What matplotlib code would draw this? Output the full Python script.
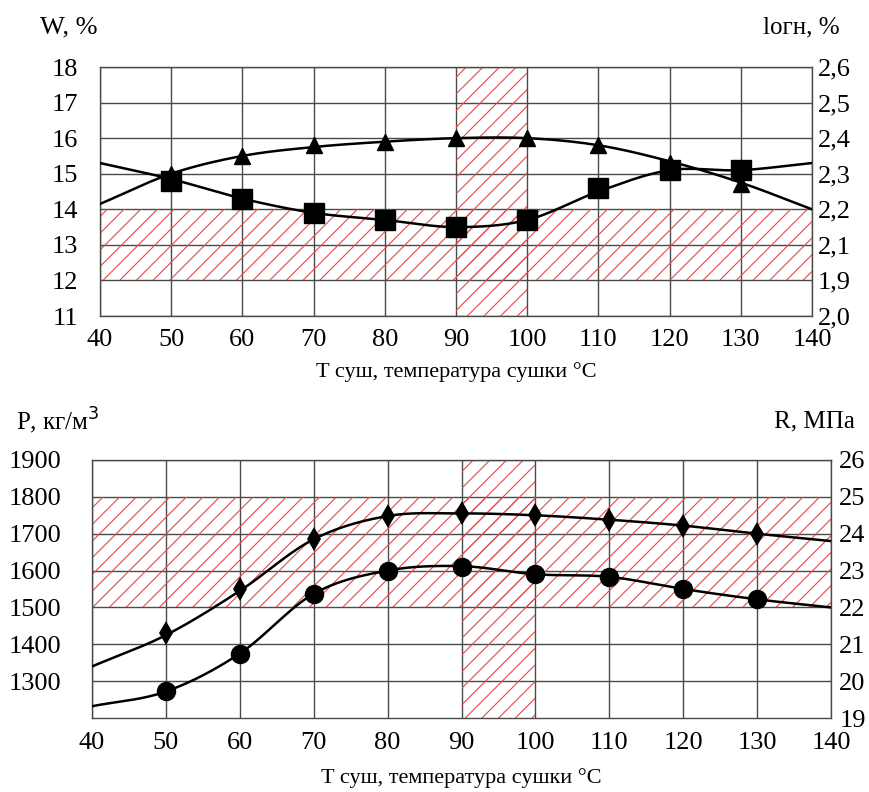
import numpy as np
import matplotlib
matplotlib.use("Agg")
import matplotlib.pyplot as plt
from matplotlib.patches import Rectangle

plt.rcParams['font.family'] = ['Liberation Serif', 'DejaVu Serif']
plt.rcParams['hatch.linewidth'] = 0.8

# ---------------- data ----------------
temps = [50, 60, 70, 80, 90, 100, 110, 120, 130]
curve_x = [40, 50, 60, 70, 80, 90, 100, 110, 120, 130, 140]

# top chart
tri_vals = [15.0, 15.5, 15.8, 15.9, 16.0, 16.0, 15.8, 15.3, 14.7]
tri_curve = [14.15, 15.0, 15.5, 15.75, 15.9, 16.0, 16.0, 15.8, 15.35, 14.75, 14.0]
sq_vals = [14.8, 14.3, 13.9, 13.7, 13.5, 13.7, 14.6, 15.1, 15.1]
sq_curve = [15.3, 14.85, 14.3, 13.9, 13.7, 13.5, 13.7, 14.5, 15.1, 15.1, 15.3]
top_left_ticks = [11, 12, 13, 14, 15, 16, 17, 18]
top_right_labels = ['2,0', '1,9', '2,1', '2,2', '2,3', '2,4', '2,5', '2,6']
top_band_y = (12, 14)

# bottom chart
dia_vals = [1430, 1550, 1685, 1748, 1755, 1750, 1738, 1722, 1700]
dia_curve = [1340, 1425, 1545, 1685, 1748, 1755, 1750, 1738, 1722, 1700, 1680]
circ_vals = [1272, 1375, 1537, 1600, 1610, 1590, 1583, 1550, 1522]
circ_curve = [1232, 1272, 1375, 1537, 1600, 1612, 1590, 1583, 1550, 1522, 1500]
bot_left_ticks = [1300, 1400, 1500, 1600, 1700, 1800, 1900]
bot_right_labels = ['19', '20', '21', '22', '23', '24', '25', '26']
bot_band_y = (1500, 1800)

x_ticks = [40, 50, 60, 70, 80, 90, 100, 110, 120, 130, 140]
v_band_x = (90, 100)
x_label = 'T суш, температура сушки °C'


def smooth(xs, ys, n=30):
    xs = np.asarray(xs, float)
    ys = np.asarray(ys, float)
    px = np.concatenate([[2 * xs[0] - xs[1]], xs, [2 * xs[-1] - xs[-2]]])
    py = np.concatenate([[2 * ys[0] - ys[1]], ys, [2 * ys[-1] - ys[-2]]])
    ox, oy = [], []
    for i in range(1, len(px) - 2):
        t = np.linspace(0, 1, n, endpoint=False)
        for arr, out in ((px, ox), (py, oy)):
            p0, p1, p2, p3 = arr[i - 1], arr[i], arr[i + 1], arr[i + 2]
            out.extend(0.5 * ((2 * p1) + (-p0 + p2) * t +
                              (2 * p0 - 5 * p1 + 4 * p2 - p3) * t ** 2 +
                              (-p0 + 3 * p1 - 3 * p2 + p3) * t ** 3))
    ox.append(xs[-1]); oy.append(ys[-1])
    return np.array(ox), np.array(oy)


fig = plt.figure(figsize=(8.69, 7.92), dpi=100)
grid_col = '#4a4a4a'
hatch_col = '#e8484a'


def style_axes(ax, ylim, left_ticks, right_labels, lpad, rpad, xpad):
    ax.set_xlim(40, 140)
    ax.set_ylim(*ylim)
    ax.set_xticks(x_ticks)
    ax.set_yticks(left_ticks)
    ax.grid(True, color=grid_col, linewidth=1.0)
    ax.set_axisbelow(True)
    for s in ax.spines.values():
        s.set_color(grid_col)
        s.set_linewidth(1.0)
    ax.tick_params(axis='both', length=0, labelsize=19)
    ax.tick_params(axis='y', pad=lpad)
    ax.tick_params(axis='x', pad=xpad)
    ax2 = ax.twinx()
    ax2.set_ylim(*ylim)
    step = (ylim[1] - ylim[0]) / (len(right_labels) - 1)
    ax2.set_yticks([ylim[0] + i * step for i in range(len(right_labels))])
    ax2.set_yticklabels(right_labels)
    ax2.tick_params(axis='y', length=0, labelsize=19, pad=rpad)
    for s in ax2.spines.values():
        s.set_visible(False)
    return ax2


def hatch_bands(ax, ylim, band_y):
    ax.add_patch(Rectangle((40, band_y[0]), 100, band_y[1] - band_y[0],
                           facecolor='none', edgecolor=hatch_col, hatch='//',
                           linewidth=0, zorder=1.5))
    ax.add_patch(Rectangle((v_band_x[0], ylim[0]), v_band_x[1] - v_band_x[0],
                           ylim[1] - ylim[0], facecolor='none',
                           edgecolor=hatch_col, hatch='//', linewidth=0,
                           zorder=1.5))


# ---------- top chart ----------
ax1 = fig.add_axes([0.1151, 0.601, 0.8193, 0.3144])
ax1r = style_axes(ax1, (11, 18), top_left_ticks, top_right_labels, 16, 4, 9)
hatch_bands(ax1, (11, 18), top_band_y)
cx, cy = smooth(curve_x, tri_curve)
ax1.plot(cx, cy, color='black', lw=1.8, zorder=3)
ax1.plot(temps, tri_vals, ls='none', marker='^', ms=11, color='black', zorder=4)
cx, cy = smooth(curve_x, sq_curve)
ax1.plot(cx, cy, color='black', lw=1.8, zorder=3)
ax1.plot(temps, sq_vals, ls='none', marker='s', ms=14, color='black', zorder=4)
ax1.set_xlabel(x_label, fontsize=16, labelpad=8)
fig.text(0.046, 0.965, 'W, %', fontsize=19, va='center', ha='left')
fig.text(0.966, 0.965, 'lогн, %', fontsize=18, va='center', ha='right')

# ---------- bottom chart ----------
ax3 = fig.add_axes([0.1059, 0.0934, 0.8504, 0.3258])
style_axes(ax3, (1200, 1900), bot_left_ticks, bot_right_labels, 22, 6, 10)
hatch_bands(ax3, (1200, 1900), bot_band_y)
cx, cy = smooth(curve_x, dia_curve)
ax3.plot(cx, cy, color='black', lw=1.8, zorder=3)
ax3.plot(temps, dia_vals, ls='none', marker='d', ms=12, color='black',
         markeredgewidth=0, zorder=4)
cx, cy = smooth(curve_x, circ_curve)
ax3.plot(cx, cy, color='black', lw=1.8, zorder=3)
ax3.plot(temps, circ_vals, ls='none', marker='o', ms=13, color='black', zorder=4)
ax3.set_xlabel(x_label, fontsize=16, labelpad=10)
fig.text(0.018, 0.468, 'P, кг/м$^3$', fontsize=18, va='center', ha='left')
fig.text(0.984, 0.468, 'R, МПа', fontsize=18, va='center', ha='right')

fig.savefig('out.png', dpi=100)
